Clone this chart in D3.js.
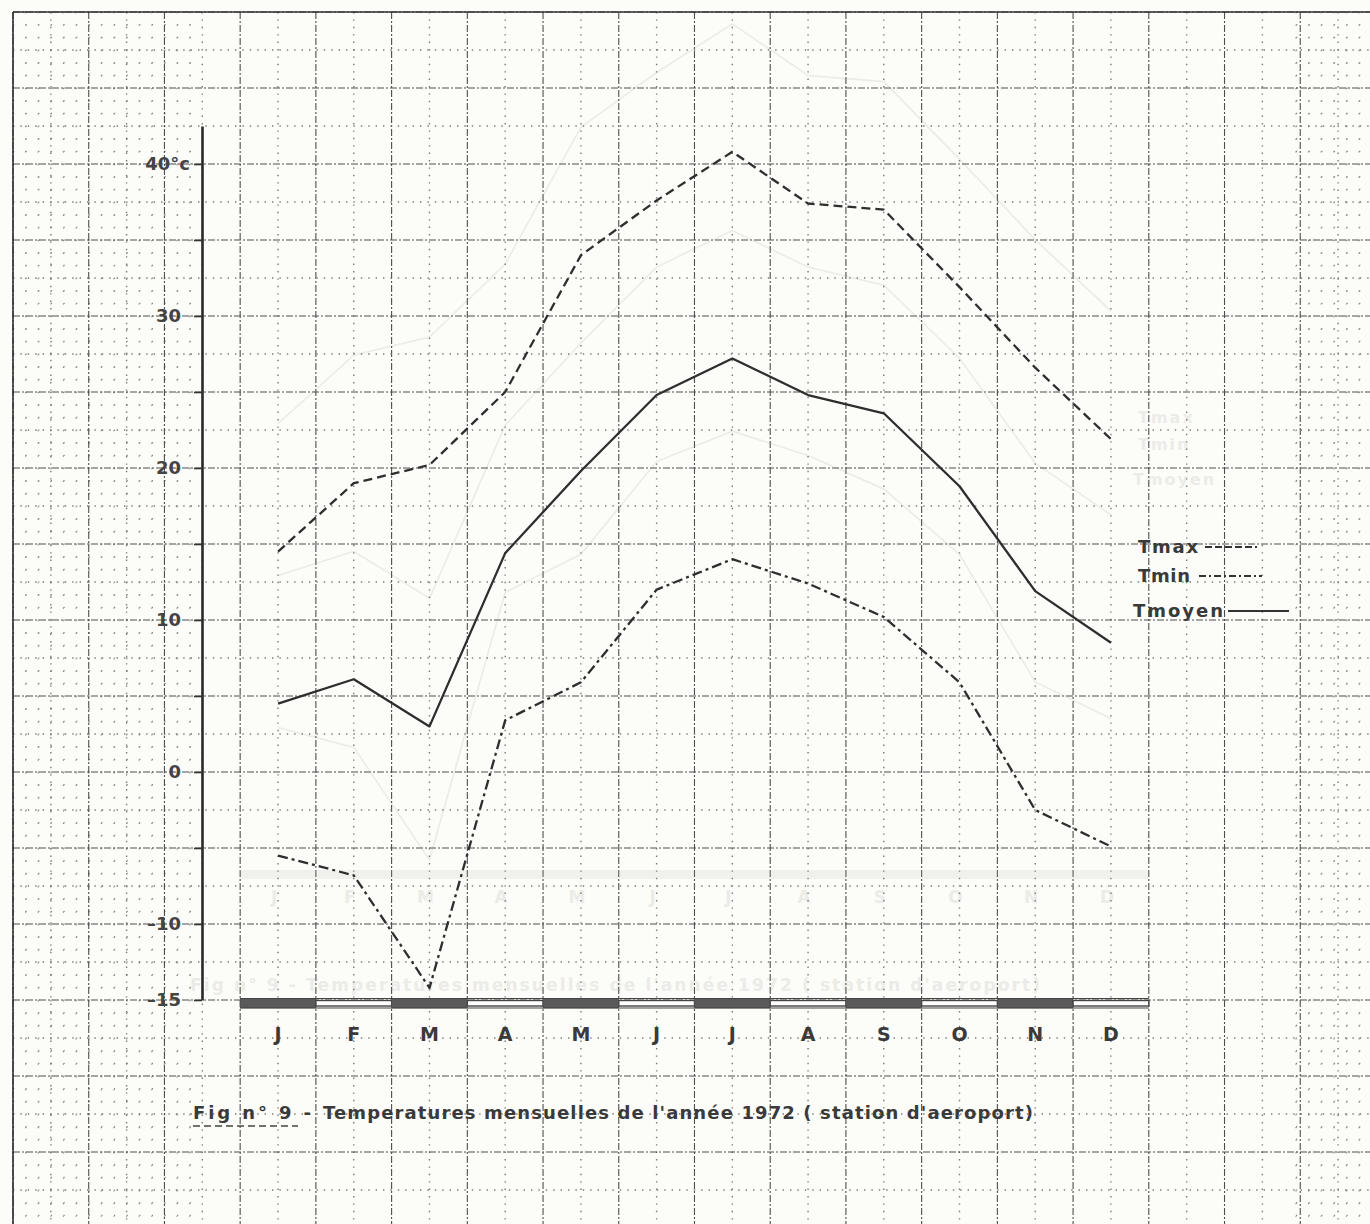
<!DOCTYPE html>
<html>
<head>
<meta charset="utf-8">
<script src="https://cdn.jsdelivr.net/npm/d3@7/dist/d3.min.js"></script>
<style>
  body { margin: 0; background: #fcfcf8; }
  svg { display: block; }
  text { font-family: "DejaVu Sans", sans-serif; font-weight: bold; fill: #3a3a3a; }
</style>
</head>
<body>
<svg id="chart"></svg>
<script>
// month initials on the x axis
const monthLabels = ["J", "F", "M", "A", "M", "J", "J", "A", "S", "O", "N", "D"];

// monthly temperatures 1972 (deg C)
const tmax   = [14.5, 19.0, 20.2, 25.0, 34.0, 37.6, 40.8, 37.4, 37.0, 31.9, 26.6, 21.9];
const tmin   = [-5.5, -6.8, -14.2, 3.4, 5.9, 12.0, 14.0, 12.4, 10.2, 5.9, -2.5, -4.9];
const tmoyen = [4.5, 6.1, 3.0, 14.4, 19.8, 24.8, 27.2, 24.8, 23.6, 18.8, 11.9, 8.5];

// labelled values on the y axis
const yTickLabels = [40, 30, 20, 10, 0, -10, -15];
const legendLabels = ["Tmax", "Tmin", "Tmoyen"];
const figLabel = "Fig n° 9 -";
const titleText = "Temperatures mensuelles de l'année 1972 ( station d'aeroport)";

const W = 1370, H = 1224;
const svg = d3.select("#chart").attr("width", W).attr("height", H);

// ---- graph paper ----
const gx = 37.86, gy = 38, gx0 = 13, gy0 = 12;
const paper = svg.append("g");

// fine millimetre dots, only visible on the edges of the sheet
[[gx0, 202], [1296, W]].forEach(([a, b]) => {
  d3.range(a, b, gx / 3).forEach(xx => {
    paper.append("line").attr("x1", xx).attr("x2", xx).attr("y1", gy0).attr("y2", H)
      .attr("stroke", "#888").attr("stroke-width", 1.2).attr("stroke-dasharray", "1.2,11.47");
  });
  d3.range(gy0, H, gy / 3).forEach(yy => {
    paper.append("line").attr("x1", a).attr("x2", b).attr("y1", yy).attr("y2", yy)
      .attr("stroke", "#888").attr("stroke-width", 1.2).attr("stroke-dasharray", "1.2,11.42");
  });
});

// main grid: heavy lines every 2 cells, dotted ones in between
d3.range(0, Math.ceil((W - gx0) / gx)).forEach(k => {
  const xx = gx0 + k * gx;
  paper.append("line").attr("x1", xx).attr("x2", xx).attr("y1", gy0).attr("y2", H)
    .attr("stroke", k % 2 === 0 ? "#4e4e4e" : "#7a7a7a")
    .attr("stroke-width", k % 2 === 0 ? 1.1 : 1.4)
    .attr("stroke-dasharray", k % 2 === 0 ? "7,2,2,2" : "1.4,6");
});
d3.range(0, Math.ceil((H - gy0) / gy)).forEach(k => {
  const yy = gy0 + k * gy;
  paper.append("line").attr("x1", gx0).attr("x2", W).attr("y1", yy).attr("y2", yy)
    .attr("stroke", k % 2 === 0 ? "#4e4e4e" : "#7a7a7a")
    .attr("stroke-width", k % 2 === 0 ? 1.1 : 1.4)
    .attr("stroke-dasharray", k % 2 === 0 ? "7,2,2,2" : "1.4,6");
});
// sheet border top and left
paper.append("line").attr("x1", gx0).attr("x2", W).attr("y1", gy0).attr("y2", gy0)
  .attr("stroke", "#333").attr("stroke-width", 1.6);
paper.append("line").attr("x1", gx0).attr("x2", gx0).attr("y1", gy0).attr("y2", H)
  .attr("stroke", "#333").attr("stroke-width", 1.6);

// ---- scales ----
const x = d3.scaleBand().domain(d3.range(monthLabels.length)).range([240.2, 1148.8]);
const xc = i => x(i) + x.bandwidth() / 2;
const y = d3.scaleLinear().domain([-15, 42.5]).range([1000, 126]);

const line = d3.line().x((d, i) => xc(i)).y(d => y(d));

const series = [
  {values: tmax, dash: "9,5"},
  {values: tmin, dash: "10,4,3,4"},
  {values: tmoyen, dash: null}
];

// legend placement (text start, baseline, sample line)
const legendRows = [
  {x: 1138, y: 553, lx1: 1205, lx2: 1257, len: 60},
  {x: 1138, y: 582, lx1: 1199, lx2: 1262, len: 52},
  {x: 1133, y: 617, lx1: 1228, lx2: 1289, len: 90}
];

// faint show-through of the same figure from the other side of the sheet
const ghost = svg.append("g").attr("transform", "translate(0,-128)").attr("opacity", 0.14);
series.forEach(s => {
  ghost.append("path").datum(s.values)
    .attr("fill", "none").attr("stroke", "#888").attr("stroke-width", 1.6)
    .attr("d", line);
});
ghost.append("rect").attr("x", x(0)).attr("y", 998).attr("width", x.range()[1] - x(0)).attr("height", 9)
  .attr("fill", "#aaa");
ghost.selectAll(".gm").data(monthLabels).enter().append("text")
  .attr("x", (d, i) => xc(i) - 4).attr("y", 1031).attr("text-anchor", "middle")
  .attr("font-size", 17).style("fill", "#888").text(d => d);
ghost.append("text").attr("x", 190).attr("y", 1119).attr("font-size", 17)
  .attr("textLength", 850).attr("lengthAdjust", "spacing").style("fill", "#888")
  .text(figLabel + " " + titleText);
legendLabels.forEach((t, i) => {
  ghost.append("text").attr("x", legendRows[i].x).attr("y", [553, 580, 615][i] - 2)
    .attr("font-size", 16).attr("letter-spacing", 2).style("fill", "#888").text(t);
});

// ---- y axis ----
const yAxis = svg.append("g")
  .attr("transform", "translate(202,0)")
  .call(d3.axisLeft(y).tickValues(d3.range(-15, 41, 5)).tickSize(8).tickSizeOuter(0).tickFormat(""));
yAxis.select(".domain").attr("stroke", "#2a2a2a").attr("stroke-width", 2.6);
yAxis.selectAll(".tick line").attr("stroke", "#333").attr("stroke-width", 1.6);

const yLab = svg.append("g");
yTickLabels.forEach(v => {
  yLab.append("text")
    .attr("x", v === 40 ? 190 : 181)
    .attr("y", y(v) + 6)
    .attr("text-anchor", "end")
    .attr("font-size", 18)
    .style("fill", "#444")
    .text(v === 40 ? "40°c" : (v < 0 ? "–" + Math.abs(v) : v));
});

// ---- month bar under the plot ----
svg.append("g").selectAll("rect").data(monthLabels).enter().append("rect")
  .attr("x", (d, i) => x(i))
  .attr("y", (d, i) => i % 2 === 0 ? 998.5 : 1000.5)
  .attr("width", x.bandwidth())
  .attr("height", (d, i) => i % 2 === 0 ? 9.5 : 5.5)
  .attr("fill", (d, i) => i % 2 === 0 ? "#5a5a5a" : "#fff")
  .attr("stroke", "#444")
  .attr("stroke-width", (d, i) => i % 2 === 0 ? 0.5 : 1.4);
svg.append("line").attr("x1", x(0)).attr("x2", x.range()[1]).attr("y1", 998.5).attr("y2", 998.5)
  .attr("stroke", "#444").attr("stroke-width", 1);
svg.append("line").attr("x1", x(0)).attr("x2", x.range()[1]).attr("y1", 1008).attr("y2", 1008)
  .attr("stroke", "#444").attr("stroke-width", 1);

// month letters
svg.append("g").selectAll("text").data(monthLabels).enter().append("text")
  .attr("x", (d, i) => xc(i))
  .attr("y", 1041)
  .attr("text-anchor", "middle")
  .attr("font-size", 19)
  .text(d => d);

// ---- the three curves ----
series.forEach(s => {
  svg.append("path")
    .datum(s.values)
    .attr("fill", "none")
    .attr("stroke", "#2e2e2e")
    .attr("stroke-width", 2.3)
    .attr("stroke-linejoin", "round")
    .attr("stroke-dasharray", s.dash)
    .attr("d", line);
});

// ---- legend ----
legendLabels.forEach((t, i) => {
  const r = legendRows[i];
  svg.append("text").attr("x", r.x).attr("y", r.y).attr("font-size", 18)
    .attr("textLength", r.len).attr("lengthAdjust", "spacing").text(t);
  svg.append("line").attr("x1", r.lx1).attr("x2", r.lx2).attr("y1", r.y - 6).attr("y2", r.y - 6)
    .attr("stroke", "#333").attr("stroke-width", 2)
    .attr("stroke-dasharray", series[i].dash ? (i === 0 ? "7,3" : "7,3,2,3") : null);
});

// ---- caption ----
svg.append("text").attr("x", 193).attr("y", 1119).attr("font-size", 18)
  .attr("textLength", 118).attr("lengthAdjust", "spacing").text(figLabel);
svg.append("line").attr("x1", 193).attr("x2", 298).attr("y1", 1126).attr("y2", 1126)
  .attr("stroke", "#444").attr("stroke-width", 1.6).attr("stroke-dasharray", "7,4");
svg.append("text").attr("x", 323).attr("y", 1119).attr("font-size", 18)
  .attr("textLength", 710).attr("lengthAdjust", "spacing").text(titleText);
</script>
</body>
</html>
